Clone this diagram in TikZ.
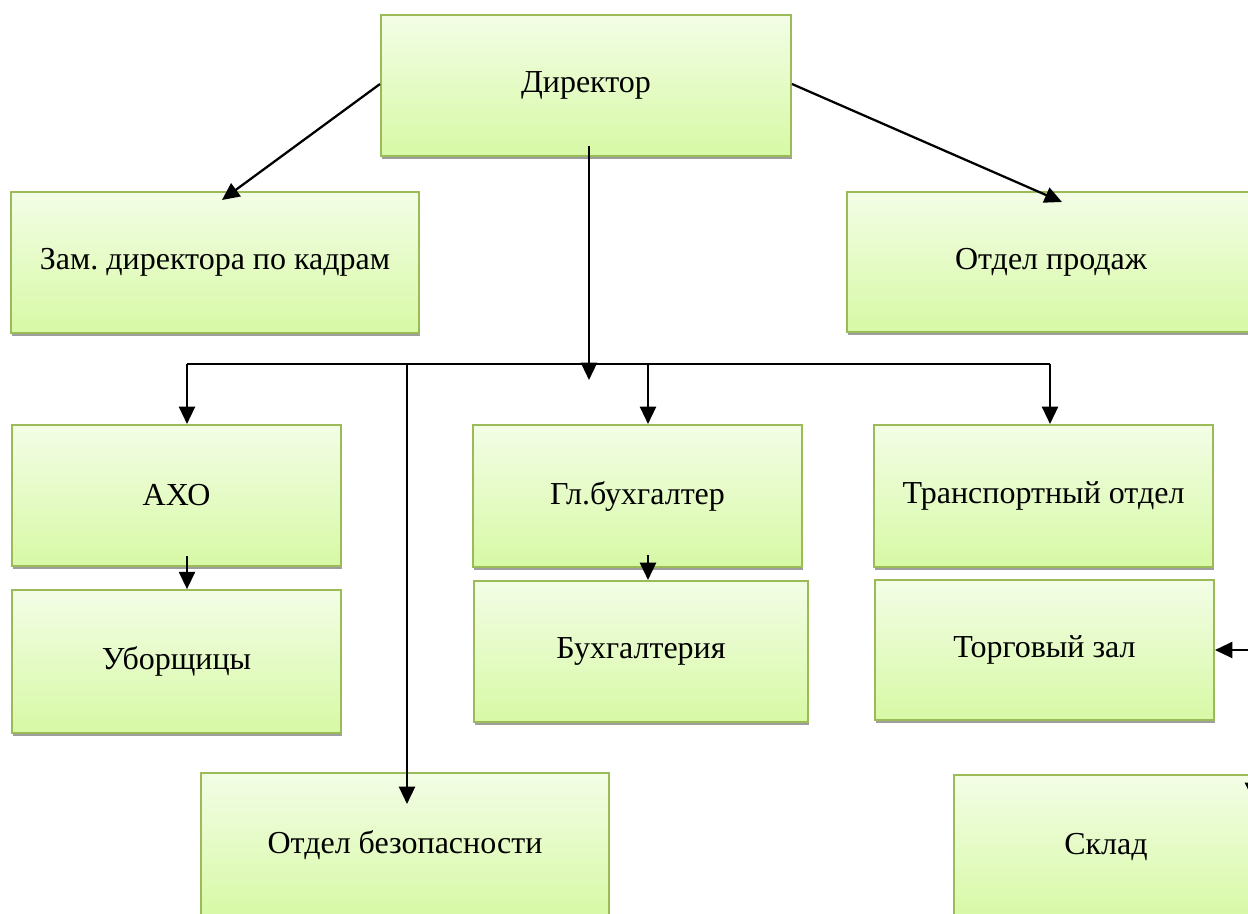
\documentclass[tikz,border=0pt]{standalone}
\usepackage{fontspec}
\setmainfont{Liberation Serif}
\frenchspacing
\usetikzlibrary{arrows.meta,shadows,calc}
\definecolor{boxborder}{RGB}{155,187,89}
\definecolor{boxtop}{RGB}{243,253,230}
\definecolor{boxbot}{RGB}{215,249,165}
\tikzset{
  orgbox/.style={draw=boxborder, line width=1.5pt, top color=boxtop, bottom color=boxbot,
    drop shadow={shadow xshift=0.6pt, shadow yshift=-2.6pt, fill=black!38, opacity=1},
    inner sep=0pt, align=center, font=\fontsize{24}{28}\selectfont},
  arr/.style={line width=1.7pt, -{Triangle[length=13pt,width=12pt]}},
  ln/.style={line width=1.4pt}
}
\begin{document}
\begin{tikzpicture}[x=0.75pt,y=-0.75pt]
\useasboundingbox (0,0) rectangle (1248,913);
\clip (0,0) rectangle (1248,913);
% boxes
\node[orgbox, minimum width=307.5pt, minimum height=105.75pt] (dir) at (586,85.5) {Директор};
\node[orgbox, minimum width=306pt, minimum height=105.75pt] (zam) at (215,262.5) {Зам. директора по кадрам};
\node[orgbox, minimum width=306pt, minimum height=105pt] (prod) at (1051,262) {Отдел продаж};
\node[orgbox, minimum width=246.75pt, minimum height=105.75pt] (axo) at (176.5,495.5) {АХО};
\node[orgbox, minimum width=246.75pt, minimum height=107pt] (ubor) at (176.5,661.5) {Уборщицы};
\node[orgbox, minimum width=246.75pt, minimum height=106.5pt] (glb) at (637.5,496) {Гл.бухгалтер};
\node[orgbox, minimum width=250.5pt, minimum height=105.75pt] (buh) at (641,651.5) {Бухгалтерия};
\node[orgbox, minimum width=254.25pt, minimum height=106.5pt] (trans) at (1043.5,496) {Транспортный отдел};
\node[orgbox, minimum width=254.25pt, minimum height=105pt] (torg) at (1044.5,650) {Торговый зал};
\node[orgbox, minimum width=306pt, minimum height=108pt] (bez) at (405,845) {Отдел безопасности};
\node[orgbox, minimum width=228pt, minimum height=108pt] (sklad) at (1106,847) {Склад};
% coordinates
\coordinate (zamtip) at (222,200);
\coordinate (prodtip) at (1062,202);
\coordinate (dv1) at (589,146);
\coordinate (dv2) at (589,380);
\coordinate (hL) at (187,364);
\coordinate (hB) at (407,364);
\coordinate (hG) at (648,364);
\coordinate (hR) at (1050,364);
\coordinate (axos) at (187,556);
\coordinate (glbs) at (648,555);
\coordinate (torgsrc) at (1260,650);
\coordinate (skladsrc) at (1253,700);
\coordinate (skladtip) at (1253,800);
% connectors
\draw[arr] (dir.west |- 0,84) -- (zamtip);
\draw[arr] (dir.east |- 0,84) -- (prodtip);
\draw[arr] (dv1) -- (dv2);
\draw[ln] (hL) -- (hR);
\draw[arr] (hL) -- (hL |- axo.north);
\draw[arr] (hB) -- (407,804);
\draw[arr] (hG) -- (hG |- glb.north);
\draw[arr] (hR) -- (hR |- trans.north);
\draw[arr] (axos) -- (axos |- ubor.north);
\draw[arr] (glbs) -- (glbs |- buh.north);
\draw[arr] (torgsrc) -- (torg.east |- torgsrc);
\draw[arr] (skladsrc) -- (skladtip);
\end{tikzpicture}
\end{document}
